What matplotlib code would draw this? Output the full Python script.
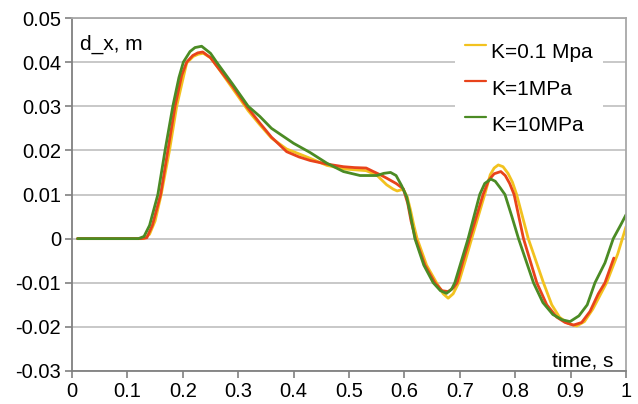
import numpy as np
import matplotlib
matplotlib.use("Agg")
import matplotlib.pyplot as plt
from matplotlib.legend_handler import HandlerLine2D
from matplotlib.lines import Line2D

plt.rcParams['font.family'] = ['Liberation Sans', 'DejaVu Sans']

# ---------------- data ----------------
t_y = [0.01, 0.13, 0.14, 0.15, 0.161, 0.176, 0.189, 0.199, 0.207, 0.219, 0.228, 0.237, 0.25, 0.262, 0.29, 0.318,
       0.339, 0.36, 0.3875, 0.41, 0.43, 0.46, 0.49, 0.531, 0.55, 0.568, 0.58, 0.587, 0.598, 0.605, 0.611,
       0.617, 0.623, 0.64, 0.658, 0.67, 0.679, 0.688, 0.698, 0.71, 0.7215, 0.745, 0.755, 0.762, 0.7695, 0.778,
       0.787, 0.795, 0.8026, 0.8236, 0.851, 0.866, 0.88, 0.895, 0.911, 0.925, 0.94, 0.965, 0.985, 1.0]
v_y = [0, 0, 0.001, 0.004, 0.010, 0.020, 0.030, 0.0355, 0.0398, 0.0413, 0.0418, 0.0420, 0.041, 0.039, 0.034, 0.029,
       0.0258, 0.0228, 0.0203, 0.0192, 0.0182, 0.0166, 0.0158, 0.0154, 0.0144, 0.0122, 0.0112, 0.0108, 0.0112,
       0.0095, 0.0065, 0.003, 0.0, -0.006, -0.010, -0.0125, -0.0135, -0.0125, -0.010, -0.005, 0.0, 0.010,
       0.0145, 0.0160, 0.0167, 0.0163, 0.0148, 0.0128, 0.010, 0.0, -0.010, -0.015, -0.0178, -0.0192, -0.0198,
       -0.0188, -0.016, -0.010, -0.0035, 0.0027]

t_r = [0.01, 0.125, 0.135, 0.145, 0.16, 0.173, 0.186, 0.198, 0.207, 0.218, 0.227, 0.236, 0.25, 0.262, 0.29, 0.315,
       0.339, 0.36, 0.3875, 0.41, 0.43, 0.46, 0.49, 0.51, 0.531, 0.544, 0.556, 0.568, 0.585, 0.598, 0.606,
       0.612, 0.62, 0.637, 0.655, 0.668, 0.679, 0.688, 0.695, 0.706, 0.718, 0.742, 0.752, 0.762, 0.774, 0.782,
       0.79, 0.798, 0.815, 0.839, 0.857, 0.875, 0.89, 0.905, 0.92, 0.935, 0.95, 0.962, 0.978]
v_r = [0, 0, 0.0002, 0.003, 0.010, 0.020, 0.030, 0.037, 0.040, 0.0415, 0.0421, 0.0423, 0.041, 0.039, 0.0345, 0.030,
       0.0262, 0.023, 0.0197, 0.0185, 0.0177, 0.0169, 0.0163, 0.0161, 0.0160, 0.0152, 0.0145, 0.0137, 0.0125,
       0.0113, 0.008, 0.004, 0.0, -0.006, -0.010, -0.0118, -0.012, -0.0112, -0.010, -0.005, 0.0, 0.010,
       0.0132, 0.0147, 0.0152, 0.0143, 0.0125, 0.010, 0.0, -0.010, -0.015, -0.0178, -0.019, -0.0196, -0.019,
       -0.0165, -0.0125, -0.010, -0.0044]

t_g = [0.01, 0.12, 0.13, 0.14, 0.155, 0.168, 0.182, 0.193, 0.201, 0.213, 0.222, 0.234, 0.25, 0.261, 0.29, 0.318,
       0.339, 0.36, 0.40, 0.43, 0.46, 0.49, 0.52, 0.55, 0.563, 0.575, 0.585, 0.595, 0.604, 0.61, 0.619,
       0.635, 0.652, 0.665, 0.676, 0.685, 0.691, 0.703, 0.715, 0.736, 0.745, 0.756, 0.764, 0.773, 0.7815,
       0.794, 0.806, 0.833, 0.85, 0.868, 0.885, 0.899, 0.915, 0.93, 0.944, 0.962, 0.977, 0.99, 1.0]
v_g = [0, 0, 0.0005, 0.003, 0.010, 0.020, 0.030, 0.0365, 0.040, 0.0424, 0.0433, 0.0436, 0.042, 0.040, 0.035, 0.030,
       0.0277, 0.025, 0.0216, 0.0195, 0.0171, 0.0152, 0.0143, 0.0143, 0.0148, 0.0150, 0.0143, 0.0120, 0.0095,
       0.006, 0.0, -0.006, -0.010, -0.0118, -0.0124, -0.0115, -0.010, -0.005, 0.0, 0.010, 0.0125, 0.0135,
       0.0130, 0.0115, 0.010, 0.005, 0.0, -0.010, -0.0145, -0.0172, -0.0184, -0.0188, -0.0175, -0.015, -0.010,
       -0.0055, 0.0, 0.003, 0.0054]

series_labels = ["K=0.1 Mpa", "K=1MPa", "K=10MPa"]
colors = ["#F2C21F", "#E8431B", "#4B8B24"]

x_ticks = [0, 0.1, 0.2, 0.3, 0.4, 0.5, 0.6, 0.7, 0.8, 0.9, 1.0]
x_tick_labels = ["0", "0.1", "0.2", "0.3", "0.4", "0.5", "0.6", "0.7", "0.8", "0.9", "1"]
y_ticks = [-0.03, -0.02, -0.01, 0, 0.01, 0.02, 0.03, 0.04, 0.05]
y_tick_labels = ["-0.03", "-0.02", "-0.01", "0", "0.01", "0.02", "0.03", "0.04", "0.05"]

# ---------------- figure ----------------
fig = plt.figure(figsize=(6.38, 4.04), dpi=100)
ax = fig.add_axes([72 / 638, 33 / 404, 554 / 638, 353 / 404])

ax.set_xlim(0, 1)
ax.set_ylim(-0.03, 0.05)
ax.set_xticks(x_ticks)
ax.set_xticklabels(x_tick_labels)
ax.set_yticks(y_ticks)
ax.set_yticklabels(y_tick_labels)
ax.tick_params(axis='both', direction='out', length=5, width=1.2, color='#808080',
               labelsize=14.5, labelcolor='black')
ax.tick_params(axis='x', pad=3)
ax.tick_params(axis='y', pad=3)

ax.yaxis.grid(True, color='#c4c4c4', linewidth=1.3)
ax.set_axisbelow(True)
for side in ['left', 'bottom']:
    ax.spines[side].set_color('#808080')
    ax.spines[side].set_linewidth(1.3)
for side in ['top', 'right']:
    ax.spines[side].set_color('#a8a8a8')
    ax.spines[side].set_linewidth(1.3)

lines = []
for (t, v), c, lab in zip([(t_y, v_y), (t_r, v_r), (t_g, v_g)], colors, series_labels):
    ln, = ax.plot(t, v, color=c, linewidth=2.0, label=lab, solid_joinstyle='round',
                  solid_capstyle='round')
    lines.append(ln)


class RaisedLine(HandlerLine2D):
    def create_artists(self, legend, orig_handle, xdescent, ydescent, width, height, fontsize, trans):
        arts = super().create_artists(legend, orig_handle, xdescent, ydescent, width, height, fontsize, trans)
        for a in arts:
            if isinstance(a, Line2D):
                a.set_ydata(np.asarray(a.get_ydata()) + height * 0.42)
                a.set_linewidth(1.6)
        return arts


leg = ax.legend(handles=lines, loc='upper right', bbox_to_anchor=(0.978, 0.987), fontsize=15,
                frameon=True, fancybox=False, edgecolor='none', facecolor='white', framealpha=1,
                handlelength=1.0, handletextpad=0.25, labelspacing=0.82, borderpad=0.5,
                handler_map={Line2D: RaisedLine()})

ax.text(0.015, 0.924, "d_x, m", transform=ax.transAxes, fontsize=15, ha='left', va='center')
ax.text(0.977, 0.028, "time, s", transform=ax.transAxes, fontsize=15, ha='right', va='center')

fig.savefig("out.png", dpi=100)
